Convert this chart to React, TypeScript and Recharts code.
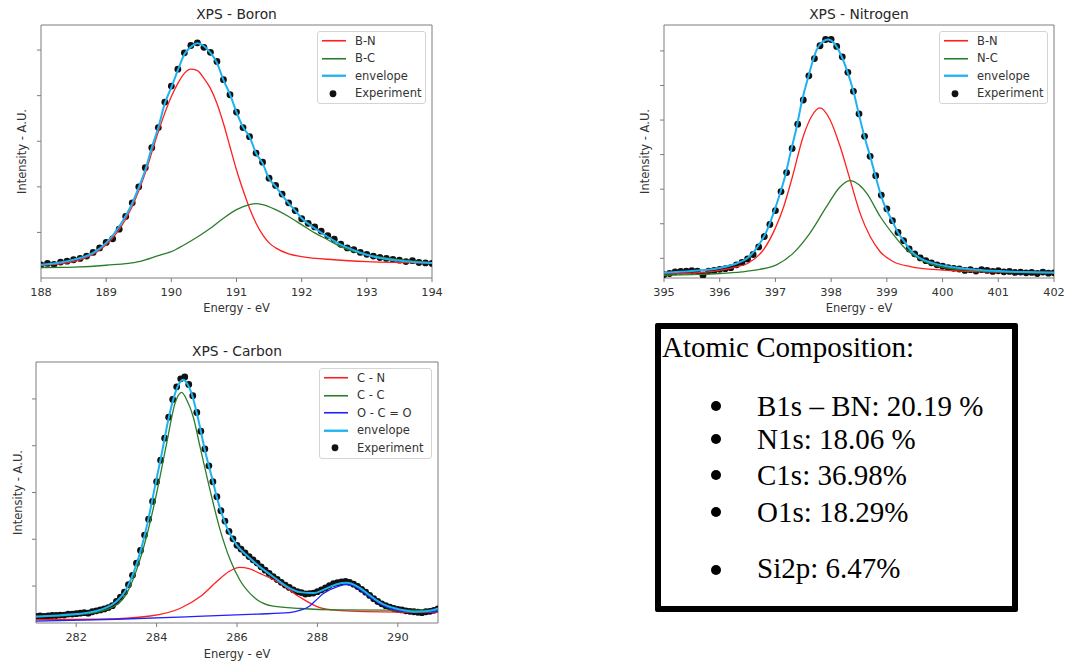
import React from "react";
import { ComposedChart, Line, Scatter, XAxis, YAxis, Legend, ReferenceLine } from "recharts";

type Pt = [number, number];

// ---- XPS Boron ----
const boronXTicks = [188, 189, 190, 191, 192, 193, 194];
const boronYTicks = [1, 2, 3, 4, 5];
const boronBN: Pt[] = [
  [188.0, 0.28], [188.5, 0.36], [188.8, 0.52], [189.0, 0.73], [189.2, 1.06], [189.4, 1.57],
  [189.6, 2.3], [189.8, 3.21], [190.0, 3.98], [190.1, 4.27], [190.2, 4.49], [190.3, 4.58],
  [190.4, 4.55], [190.5, 4.38], [190.6, 4.16], [190.7, 3.83], [190.8, 3.39], [190.9, 2.88],
  [191.0, 2.37], [191.1, 1.93], [191.2, 1.53], [191.3, 1.2], [191.4, 0.95], [191.5, 0.77],
  [191.6, 0.66], [191.8, 0.53], [192.0, 0.47], [192.5, 0.4], [193.0, 0.36], [194.0, 0.33],
];
const boronBC: Pt[] = [
  [188.0, 0.23], [188.5, 0.24], [189.0, 0.28], [189.5, 0.36], [189.8, 0.49], [190.0, 0.58],
  [190.2, 0.73], [190.4, 0.9], [190.6, 1.09], [190.8, 1.31], [191.0, 1.5], [191.2, 1.61],
  [191.3, 1.63], [191.4, 1.61], [191.6, 1.5], [191.8, 1.35], [192.0, 1.17], [192.2, 0.99],
  [192.4, 0.84], [192.6, 0.69], [192.8, 0.58], [193.0, 0.51], [193.5, 0.4], [194.0, 0.33],
];
const boronEnvelope: Pt[] = [
  [188.0, 0.29], [188.5, 0.4], [188.8, 0.55], [189.0, 0.77], [189.2, 1.13], [189.4, 1.64],
  [189.5, 1.99], [189.6, 2.37], [189.7, 2.86], [189.8, 3.3], [189.9, 3.83], [190.0, 4.18],
  [190.1, 4.56], [190.2, 4.91], [190.3, 5.07], [190.4, 5.15], [190.5, 5.09], [190.6, 4.94],
  [190.7, 4.72], [190.8, 4.34], [190.9, 4.03], [191.0, 3.64], [191.1, 3.31], [191.2, 3.1],
  [191.3, 2.74], [191.4, 2.52], [191.5, 2.18], [191.6, 2.01], [191.7, 1.82], [191.8, 1.64],
  [191.9, 1.48], [192.0, 1.31], [192.2, 1.09], [192.4, 0.9], [192.6, 0.73], [192.8, 0.61],
  [193.0, 0.51], [193.2, 0.44], [193.5, 0.38], [194.0, 0.33],
];
const boronExpStart = 188.0;
const boronExp = [
  0.29, 0.32, 0.3, 0.35, 0.37, 0.4, 0.43, 0.48, 0.56, 0.66,
  0.78, 0.86, 1.07, 1.35, 1.65, 2.0, 2.42, 2.86, 3.3, 3.86,
  4.21, 4.58, 4.94, 5.1, 5.16, 5.06, 4.95, 4.75, 4.35, 4.02,
  3.64, 3.3, 3.1, 2.74, 2.54, 2.19, 2.03, 1.84, 1.65, 1.48,
  1.3, 1.2, 1.12, 1.03, 0.93, 0.85, 0.74, 0.66, 0.62, 0.56,
  0.52, 0.48, 0.45, 0.43, 0.41, 0.39, 0.36, 0.38, 0.34, 0.33,
  0.32,
];

// ---- XPS Nitrogen ----
const nitrogenXTicks = [395, 396, 397, 398, 399, 400, 401, 402];
const nitrogenYTicks = [0.57, 1.57, 2.57, 3.57, 4.57, 5.57, 6.57];
const nitrogenBN: Pt[] = [
  [395.0, 0.11], [395.5, 0.14], [396.0, 0.22], [396.3, 0.32], [396.5, 0.42], [396.8, 0.85],
  [397.0, 1.45], [397.15, 2.07], [397.3, 2.9], [397.5, 4.1], [397.65, 4.68], [397.8, 4.92],
  [397.98, 4.58], [398.16, 3.81], [398.34, 2.84], [398.52, 1.87], [398.7, 1.2], [398.88, 0.76],
  [399.12, 0.47], [399.42, 0.33], [400.0, 0.23], [401.0, 0.17], [402.0, 0.15],
];
const nitrogenNC: Pt[] = [
  [395.0, 0.08], [395.5, 0.1], [396.0, 0.13], [396.4, 0.18], [396.72, 0.25], [397.02, 0.38],
  [397.32, 0.72], [397.62, 1.3], [397.92, 2.07], [398.15, 2.62], [398.33, 2.82], [398.5, 2.7],
  [398.64, 2.45], [398.88, 1.78], [399.12, 1.25], [399.36, 0.81], [399.6, 0.54], [399.95, 0.33],
  [400.5, 0.22], [401.0, 0.18], [402.0, 0.15],
];
const nitrogenEnvelope: Pt[] = [
  [395.0, 0.15], [395.5, 0.2], [396.0, 0.29], [396.3, 0.42], [396.5, 0.58], [396.72, 1.0],
  [396.84, 1.35], [396.96, 1.85], [397.07, 2.38], [397.17, 2.92], [397.27, 3.62], [397.38, 4.36],
  [397.47, 5.08], [397.59, 5.82], [397.74, 6.6], [397.85, 6.84], [397.95, 6.9], [398.05, 6.8],
  [398.16, 6.51], [398.29, 5.98], [398.4, 5.4], [398.49, 4.79], [398.59, 4.14], [398.7, 3.52],
  [398.79, 2.99], [398.89, 2.41], [398.98, 2.02], [399.09, 1.68], [399.19, 1.34], [399.3, 1.08],
  [399.42, 0.81], [399.57, 0.6], [399.83, 0.43], [400.19, 0.31], [400.6, 0.24], [401.0, 0.2],
  [401.5, 0.17], [402.0, 0.16],
];
const nitrogenExpStart = 395.0;
const nitrogenExp = [
  0.1, 0.13, 0.18, 0.19, 0.2, 0.21, 0.2, 0.08, 0.2, 0.22,
  0.25, 0.27, 0.3, 0.38, 0.45, 0.55, 0.68, 0.9, 1.2, 1.55,
  1.95, 2.5, 3.05, 3.75, 4.45, 5.15, 5.85, 6.35, 6.72, 6.9,
  6.9, 6.7, 6.4, 5.95, 5.4, 4.75, 4.1, 3.52, 2.96, 2.4,
  2.0, 1.66, 1.32, 1.08, 0.84, 0.7, 0.58, 0.5, 0.44, 0.38,
  0.34, 0.3, 0.28, 0.26, 0.22, 0.24, 0.2, 0.24, 0.22, 0.19,
  0.21, 0.18, 0.19, 0.16, 0.17, 0.15, 0.16, 0.13, 0.17, 0.14,
  0.15,
];

// ---- XPS Carbon ----
const carbonXTicks = [282, 284, 286, 288, 290];
const carbonYTicks = [0.79, 1.79, 2.79, 3.79, 4.79];
const carbonCN: Pt[] = [
  [281.0, 0.07], [282.59, 0.08], [283.84, 0.15], [284.58, 0.31], [285.08, 0.56], [285.49, 0.88],
  [285.8, 1.1], [286.07, 1.19], [286.3, 1.16], [286.57, 1.06], [287.07, 0.85], [287.57, 0.55],
  [288.06, 0.33], [288.5, 0.27], [289.0, 0.25], [291.0, 0.23],
];
const carbonCC: Pt[] = [
  [281.0, 0.13], [282.0, 0.18], [282.5, 0.23], [283.01, 0.39], [283.26, 0.64], [283.5, 1.13],
  [283.75, 1.85], [284.0, 2.77], [284.25, 3.84], [284.46, 4.7], [284.62, 4.93], [284.76, 4.75],
  [284.91, 4.41], [285.08, 3.77], [285.33, 2.84], [285.58, 1.99], [285.83, 1.35], [286.07, 0.92],
  [286.41, 0.56], [286.9, 0.36], [287.57, 0.31], [288.5, 0.28], [291.0, 0.27],
];
const carbonOCO: Pt[] = [
  [281.0, 0.04], [283.0, 0.08], [285.0, 0.14], [286.5, 0.19], [287.3, 0.22], [287.6, 0.28],
  [287.8, 0.36], [287.98, 0.5], [288.15, 0.63], [288.31, 0.71], [288.5, 0.78], [288.7, 0.82],
  [288.85, 0.81], [289.06, 0.71], [289.31, 0.55], [289.56, 0.41], [289.89, 0.29], [290.3, 0.24],
  [290.88, 0.24], [291.0, 0.25],
];
const carbonEnvelope: Pt[] = [
  [281.0, 0.14], [281.5, 0.16], [282.0, 0.19], [282.59, 0.28], [283.0, 0.46], [283.21, 0.67],
  [283.42, 1.06], [283.63, 1.63], [283.79, 2.2], [283.96, 2.92], [284.13, 3.63], [284.29, 4.34],
  [284.46, 4.91], [284.56, 5.12], [284.66, 5.2], [284.76, 5.12], [284.87, 4.91], [285.04, 4.34],
  [285.2, 3.7], [285.37, 3.13], [285.54, 2.56], [285.74, 2.06], [285.99, 1.67], [286.24, 1.45],
  [286.57, 1.2], [286.9, 0.99], [287.24, 0.78], [287.57, 0.66], [287.9, 0.64], [288.23, 0.74],
  [288.48, 0.83], [288.73, 0.86], [288.98, 0.79], [289.23, 0.64], [289.48, 0.48], [289.72, 0.37],
  [290.05, 0.29], [290.47, 0.24], [290.8, 0.26], [291.0, 0.31],
];
const carbonExpStart = 281.0;
const carbonExp = [
  0.14, 0.15, 0.14, 0.15, 0.16, 0.16, 0.17, 0.17, 0.19, 0.19,
  0.2, 0.21, 0.22, 0.21, 0.24, 0.26, 0.28, 0.3, 0.33, 0.37,
  0.46, 0.55, 0.66, 0.82, 1.02, 1.28, 1.55, 1.88, 2.22, 2.6,
  3.02, 3.48, 3.95, 4.4, 4.78, 5.05, 5.22, 5.26, 5.1, 4.86,
  4.5, 4.1, 3.72, 3.36, 3.02, 2.7, 2.4, 2.18, 1.96, 1.8,
  1.66, 1.58, 1.5, 1.42, 1.35, 1.28, 1.2, 1.13, 1.06, 0.99,
  0.93, 0.87, 0.81, 0.76, 0.71, 0.67, 0.65, 0.62, 0.63, 0.64,
  0.67, 0.71, 0.75, 0.8, 0.84, 0.86, 0.88, 0.89, 0.87, 0.83,
  0.78, 0.72, 0.66, 0.59, 0.52, 0.46, 0.41, 0.37, 0.34, 0.31,
  0.29, 0.28, 0.26, 0.25, 0.24, 0.23, 0.22, 0.24, 0.25, 0.27,
  0.3,
];

// ---- Atomic composition box ----
const compositionTitle = "Atomic Composition:";
const compositionItems = [
  "B1s \u2013 BN: 20.19 %",
  "N1s: 18.06 %",
  "C1s: 36.98%",
  "O1s: 18.29%",
  "Si2p: 6.47%",
];

const RED = "#ff1f1f";
const GREEN = "#2a7d2a";
const BLUE = "#2020ff";
const CYAN = "#1eb2f0";
const AXIS = "#7c7c7c";
const TEXT = "#333333";
const FONT = "'DejaVu Sans', sans-serif";

type Series = { name: string; color: string; width: number; pts: Pt[] };

const toRows = (pts: Pt[]) => pts.map(([x, y]) => ({ x, y }));
const expRows = (start: number, vals: number[]) =>
  vals.map((y, i) => ({ x: Math.round((start + i * 0.1) * 100) / 100, y }));

const ExpDot = (props: any) => <circle cx={props.cx} cy={props.cy} r={3.4} fill="#111" />;

const LegendBox = ({ series, width }: { series: Series[]; width: number }) => {
  const rowH = 17.5;
  return (
    <div
      style={{
        width,
        boxSizing: "border-box",
        background: "#fff",
        border: "1px solid #d4d4d4",
        borderRadius: 3,
        paddingBottom: 1,
        fontFamily: FONT,
        fontSize: 11.5,
        color: TEXT,
      }}
    >
      {series.map((s) => (
        <div key={s.name} style={{ display: "flex", alignItems: "center", height: rowH }}>
          <svg width={37} height={rowH} style={{ flex: "none" }}>
            <line x1={4} x2={28} y1={rowH / 2} y2={rowH / 2} stroke={s.color} strokeWidth={s.width + 0.3} />
          </svg>
          <span style={{ whiteSpace: "nowrap" }}>{s.name}</span>
        </div>
      ))}
      <div style={{ display: "flex", alignItems: "center", height: rowH }}>
        <svg width={37} height={rowH} style={{ flex: "none" }}>
          <circle cx={15} cy={rowH / 2} r={3.4} fill="#111" />
        </svg>
        <span>Experiment</span>
      </div>
    </div>
  );
};

interface PanelProps {
  title: string;
  left: number;
  top: number;
  width: number;
  height: number;
  margin: { top: number; right: number; left: number; bottom: number };
  yAxisWidth: number;
  xAxisHeight: number;
  xDomain: [number, number];
  xTicks: number[];
  yDomain: [number, number];
  yTicks: number[];
  series: Series[];
  exp: { x: number; y: number }[];
  legendLeft: number;
  legendTop: number;
  legendWidth: number;
  titleTop: number;
  xLabelOffset: number;
}

const Panel = (p: PanelProps) => {
  const plotLeft = p.margin.left + p.yAxisWidth;
  const plotWidth = p.width - plotLeft - p.margin.right;
  return (
    <div style={{ position: "absolute", left: p.left, top: p.top, width: p.width, height: p.height }}>
      <div
        style={{
          position: "absolute",
          left: plotLeft,
          width: plotWidth,
          top: p.titleTop,
          lineHeight: "16px",
          textAlign: "center",
          fontFamily: FONT,
          fontSize: 13.8,
          color: "#262626",
        }}
      >
        {p.title}
      </div>
      <ComposedChart width={p.width} height={p.height} margin={p.margin}>
        <XAxis
          dataKey="x"
          type="number"
          domain={p.xDomain}
          ticks={p.xTicks}
          allowDataOverflow
          height={p.xAxisHeight}
          axisLine={{ stroke: AXIS }}
          tickLine={{ stroke: AXIS }}
          tickSize={4}
          tickMargin={6}
          tick={{ fill: TEXT, fontSize: 11.3, fontFamily: FONT }}
          label={{
            value: "Energy - eV",
            position: "insideBottom",
            offset: p.xLabelOffset,
            fill: TEXT,
            fontSize: 11.5,
            fontFamily: FONT,
          }}
        />
        <YAxis
          type="number"
          domain={p.yDomain}
          ticks={p.yTicks}
          allowDataOverflow
          width={p.yAxisWidth}
          axisLine={{ stroke: AXIS }}
          tickLine={{ stroke: AXIS }}
          tickSize={4}
          tickFormatter={() => ""}
          label={{
            value: "Intensity - A.U.",
            angle: -90,
            position: "center",
            fill: TEXT,
            fontSize: 11.5,
            fontFamily: FONT,
          }}
        />
        <ReferenceLine y={p.yDomain[1]} stroke={AXIS} strokeWidth={1} />
        <ReferenceLine x={p.xDomain[1]} stroke={AXIS} strokeWidth={1} />
        <Scatter data={p.exp} dataKey="y" fill="#111" shape={ExpDot} isAnimationActive={false} />
        {p.series.map((s) => (
          <Line
            key={s.name}
            data={toRows(s.pts)}
            dataKey="y"
            type="monotone"
            stroke={s.color}
            strokeWidth={s.width}
            dot={false}
            activeDot={false}
            isAnimationActive={false}
            zIndex={700}
          />
        ))}
        <Legend
          layout="vertical"
          align="center"
          verticalAlign="middle"
          wrapperStyle={{ left: p.legendLeft, top: p.legendTop, width: p.legendWidth }}
          content={() => <LegendBox series={p.series} width={p.legendWidth} />}
        />
      </ComposedChart>
    </div>
  );
};

export default function App() {
  const boronSeries: Series[] = [
    { name: "B-N", color: RED, width: 1.3, pts: boronBN },
    { name: "B-C", color: GREEN, width: 1.3, pts: boronBC },
    { name: "envelope", color: CYAN, width: 2, pts: boronEnvelope },
  ];
  const nitrogenSeries: Series[] = [
    { name: "B-N", color: RED, width: 1.3, pts: nitrogenBN },
    { name: "N-C", color: GREEN, width: 1.3, pts: nitrogenNC },
    { name: "envelope", color: CYAN, width: 2, pts: nitrogenEnvelope },
  ];
  const carbonSeries: Series[] = [
    { name: "C - N", color: RED, width: 1.3, pts: carbonCN },
    { name: "C - C", color: GREEN, width: 1.3, pts: carbonCC },
    { name: "O - C = O", color: BLUE, width: 1.3, pts: carbonOCO },
    { name: "envelope", color: CYAN, width: 2, pts: carbonEnvelope },
  ];

  const bulletTops = [72, 105, 141, 178, 236];
  const itemTops = [63, 96, 132, 169, 225];

  return (
    <div
      style={{
        position: "absolute",
        left: 0,
        top: 0,
        width: 1065,
        height: 662,
        background: "#fff",
        overflow: "hidden",
        fontFamily: FONT,
      }}
    >
      <Panel
        title="XPS - Boron"
        left={0}
        top={0}
        width={450}
        height={320}
        margin={{ top: 25, right: 18, left: 3, bottom: 0 }}
        yAxisWidth={38}
        xAxisHeight={42}
        xDomain={[188, 194]}
        xTicks={boronXTicks}
        yDomain={[0, 5.55]}
        yTicks={boronYTicks}
        series={boronSeries}
        exp={expRows(boronExpStart, boronExp)}
        legendLeft={317}
        legendTop={31}
        legendWidth={109}
        titleTop={6}
        xLabelOffset={8}
      />
      <Panel
        title="XPS - Nitrogen"
        left={620}
        top={0}
        width={445}
        height={320}
        margin={{ top: 25, right: 11, left: 6, bottom: 0 }}
        yAxisWidth={38}
        xAxisHeight={42}
        xDomain={[395, 402]}
        xTicks={nitrogenXTicks}
        yDomain={[0, 7.32]}
        yTicks={nitrogenYTicks}
        series={nitrogenSeries}
        exp={expRows(nitrogenExpStart, nitrogenExp)}
        legendLeft={319}
        legendTop={31}
        legendWidth={109}
        titleTop={6}
        xLabelOffset={8}
      />
      <Panel
        title="XPS - Carbon"
        left={0}
        top={330}
        width={450}
        height={332}
        margin={{ top: 32, right: 12, left: 0, bottom: 0 }}
        yAxisWidth={36}
        xAxisHeight={39}
        xDomain={[281, 291]}
        xTicks={carbonXTicks}
        yDomain={[0, 5.58]}
        yTicks={carbonYTicks}
        series={carbonSeries}
        exp={expRows(carbonExpStart, carbonExp)}
        legendLeft={319}
        legendTop={38}
        legendWidth={113}
        titleTop={13}
        xLabelOffset={4}
      />

      <div
        style={{
          position: "absolute",
          left: 655,
          top: 323,
          width: 363,
          height: 289,
          boxSizing: "border-box",
          border: "6px solid #000",
          borderRadius: 2,
          fontFamily: "'Liberation Serif', 'Times New Roman', serif",
          fontSize: 29,
          lineHeight: "29px",
          color: "#000",
        }}
      >
        <div style={{ position: "absolute", left: 1, top: 4, whiteSpace: "nowrap" }}>{compositionTitle}</div>
        {compositionItems.map((item, i) => (
          <React.Fragment key={item}>
            <div
              style={{
                position: "absolute",
                left: 50,
                top: bulletTops[i],
                width: 10,
                height: 10,
                borderRadius: "50%",
                background: "#000",
              }}
            />
            <div style={{ position: "absolute", left: 96, top: itemTops[i], whiteSpace: "nowrap" }}>{item}</div>
          </React.Fragment>
        ))}
      </div>
    </div>
  );
}
